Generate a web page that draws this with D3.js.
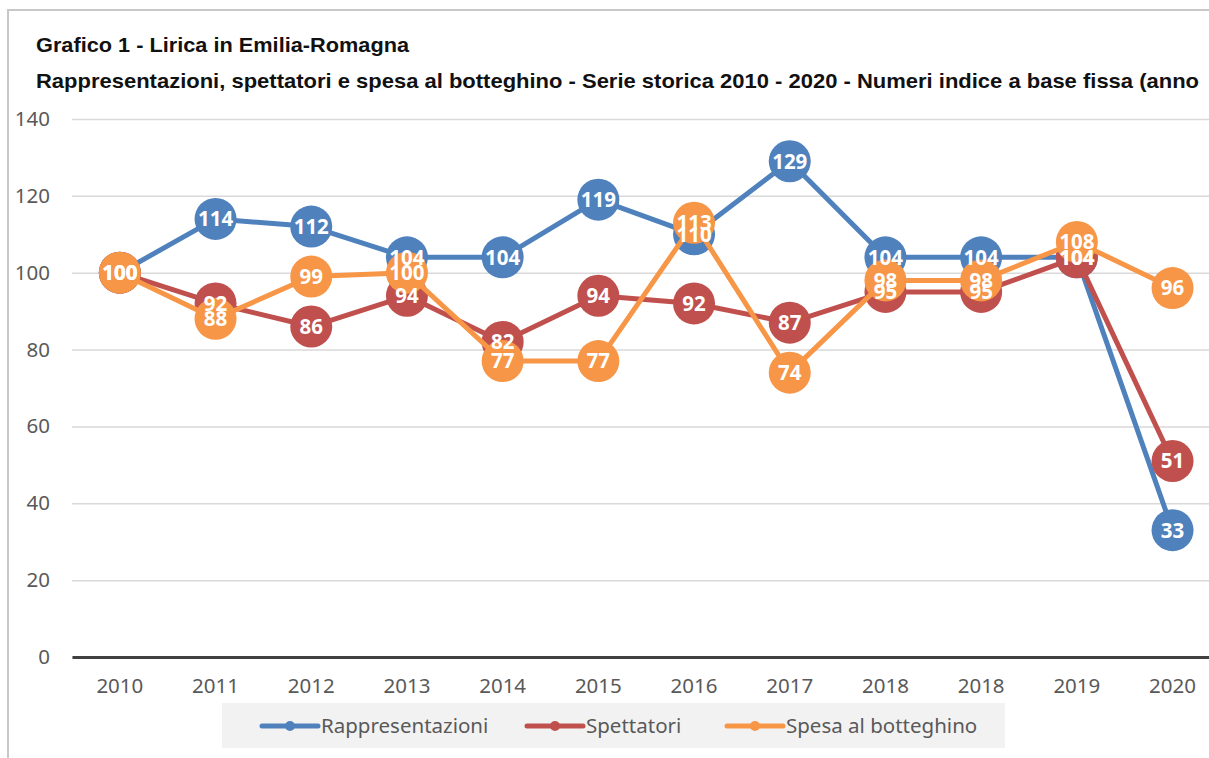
<!DOCTYPE html>
<html><head><meta charset="utf-8">
<script src="https://cdn.jsdelivr.net/npm/d3@7"></script>
<style>
body{margin:0;background:#fff;}
svg{display:block;}
</style></head>
<body>
<svg id="c" width="1209" height="758"></svg>
<script>
const categories = ["2010","2011","2012","2013","2014","2015","2016","2017","2018","2018","2019","2020"];
const rappresentazioni = [100,114,112,104,104,119,110,129,104,104,104,33];
const spettatori = [100,92,86,94,82,94,92,87,95,95,104,51];
const spesa = [100,88,99,100,77,77,113,74,98,98,108,96];
const yTicks = [0,20,40,60,80,100,120,140];
const seriesNames = ["Rappresentazioni","Spettatori","Spesa al botteghino"];
const title1 = "Grafico 1 - Lirica in Emilia-Romagna";
const title2 = "Rappresentazioni, spettatori e spesa al botteghino - Serie storica 2010 - 2020 - Numeri indice a base fissa (anno";

const colors = ["#4f81bd","#c0504d","#f79646"];
const series = [rappresentazioni, spettatori, spesa];

const svg = d3.select("#c");
// frame
svg.append("rect").attr("x",8).attr("y",10).attr("width",1240).attr("height",800)
  .attr("fill","#fff").attr("stroke","#c8c8c8").attr("stroke-width",2);

const tf = "'Liberation Sans Narrow','Arial Narrow','Liberation Sans',sans-serif";
svg.append("text").attr("x",36).attr("y",52).text(title1)
  .attr("font-family",tf).attr("font-weight","bold").attr("font-size",21).attr("fill","#111")
  .attr("textLength",373).attr("lengthAdjust","spacingAndGlyphs");
svg.append("text").attr("x",36).attr("y",88).text(title2)
  .attr("font-family",tf).attr("font-weight","bold").attr("font-size",21).attr("fill","#111")
  .attr("textLength",1163).attr("lengthAdjust","spacingAndGlyphs");

const x = d3.scaleBand().domain(d3.range(categories.length)).range([72, 72+12*95.7]).padding(0);
const y = d3.scaleLinear().domain([0,140]).range([657,119]);
const cx = i => x(i) + x.bandwidth()/2;

const lf = "'Noto Sans','Open Sans',sans-serif";
// grid + y axis
const ya = svg.append("g").attr("transform","translate(72,0)")
  .call(d3.axisLeft(y).tickValues(yTicks).tickSize(-(1220-72)).tickPadding(22));
ya.select(".domain").remove();
ya.selectAll(".tick line").attr("stroke","#d9d9d9").attr("stroke-width",1.5);
ya.selectAll(".tick text").attr("font-family",lf).attr("font-size",20.5).attr("fill","#595959");
// base axis
const xa = svg.append("g").attr("transform","translate(0,657)")
  .call(d3.axisBottom(x).tickSize(0).tickPadding(21).tickFormat(i=>categories[i]));
xa.select(".domain").attr("stroke","#404040").attr("stroke-width",3);
xa.selectAll(".tick text").attr("font-family",lf).attr("font-size",20.5).attr("fill","#595959");

const line = d3.line().x((d,i)=>cx(i)).y(d=>y(d));
series.forEach((s,k)=>{
  const g = svg.append("g");
  g.append("path").datum(s).attr("d",line).attr("fill","none")
    .attr("stroke",colors[k]).attr("stroke-width",5).attr("stroke-linejoin","round");
  g.selectAll("circle").data(s).join("circle")
    .attr("cx",(d,i)=>cx(i)).attr("cy",d=>y(d)).attr("r",21).attr("fill",colors[k]);
});
series.forEach((s,k)=>{
  svg.append("g").selectAll("text").data(s).join("text")
    .attr("x",(d,i)=>cx(i)).attr("y",d=>y(d)).attr("dy","0.36em")
    .attr("text-anchor","middle").attr("font-family",lf).attr("font-weight","bold")
    .attr("font-size",20.5).attr("fill","#fff").text(d=>d);
});

// legend
svg.append("rect").attr("x",222).attr("y",703).attr("width",783).attr("height",45).attr("fill","#f2f2f2");
const legX = [262,527,727];
seriesNames.forEach((n,k)=>{
  const lg = svg.append("g").attr("transform",`translate(${legX[k]},726)`);
  lg.append("line").attr("x1",0).attr("x2",56).attr("stroke",colors[k]).attr("stroke-width",5).attr("stroke-linecap","round");
  lg.append("circle").attr("cx",28).attr("r",5).attr("fill",colors[k]);
  lg.append("text").attr("x",59).attr("dy","0.35em").text(n)
    .attr("font-family",lf).attr("font-size",20.5).attr("fill","#595959");
});
</script>
</body></html>
